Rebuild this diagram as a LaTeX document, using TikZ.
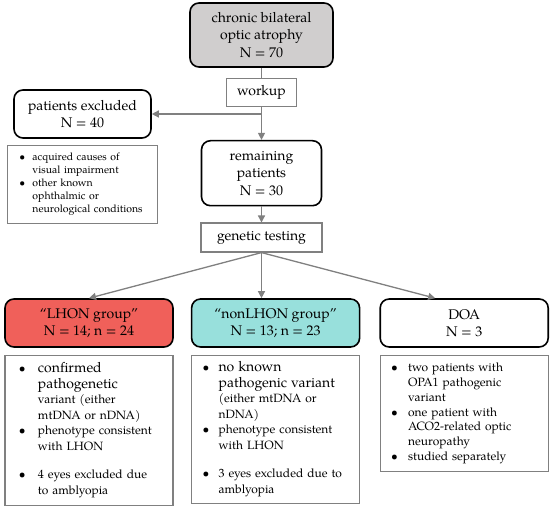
\documentclass[tikz,border=0pt]{standalone}
\usepackage{fontspec}
\setmainfont{TeX Gyre Pagella}
\usetikzlibrary{arrows.meta, positioning}

\definecolor{boxgray}{HTML}{D0CECE}
\definecolor{lhonred}{HTML}{F0605A}
\definecolor{nonteal}{HTML}{98E0DC}
\definecolor{linegray}{HTML}{808080}

% bullet and continuation indent for the note boxes
\newcommand{\itm}[1][16pt]{\makebox[#1][l]{\textbullet}}
\newcommand{\cnt}[1][16pt]{\hspace*{#1}}
\newcommand{\bigtxt}{\fontsize{14}{15.5}\selectfont}

\begin{document}
\begin{tikzpicture}[
  x=1pt, y=1pt,
  >={Triangle[length=7pt, width=7pt]},
  every node/.style={font=\fontsize{14}{17.5}\selectfont},
  group/.style={draw=black, line width=1.6pt, rounded corners=9pt, align=center, inner sep=2pt},
  stage/.style={draw=linegray, line width=1.1pt, align=center, inner sep=2pt},
  note/.style={draw=linegray, line width=1.1pt, align=left, inner ysep=4pt, font=\fontsize{12}{15.5}\selectfont},
  flow/.style={draw=linegray, line width=1.3pt}
]
  \useasboundingbox (0,0) rectangle (550,508);

  % main flow
  \node[group, fill=boxgray, minimum width=143pt, minimum height=64pt] (top) at (261.5,473) {chronic bilateral\\optic atrophy\\N = 70};
  \node[stage, minimum width=70pt, minimum height=28pt, below=10pt of top] (workup) {workup};
  \node[group, minimum width=120pt, minimum height=65pt, below=33pt of workup] (rem) {remaining\\patients\\N = 30};
  \node[stage, minimum width=121pt, minimum height=29pt, below=16pt of rem] (gen) {genetic testing};

  % excluded branch
  \node[group, minimum width=137pt, minimum height=48pt] (excl) at (82.5,394) {patients excluded\\N = 40};
  \node[note, below=6pt of excl, inner xsep=12pt, text width=126pt, minimum height=78pt,
        font=\fontsize{10.5}{13}\selectfont] (exclnote)
    {\itm[13pt]acquired causes of\\ \cnt[13pt]visual impairment\\
     \itm[13pt]other known\\ \cnt[13pt]ophthalmic or\\ \cnt[13pt]neurological conditions};

  % groups
  \node[group, fill=lhonred, minimum width=168pt, minimum height=48pt] (lhon) at (89,185) {“LHON group”\\N = 14; n = 24};
  \node[group, fill=nonteal, minimum width=168pt, minimum height=48pt, right=17pt of lhon] (non) {“nonLHON group”\\N = 13; n = 23};
  \node[group, minimum width=168pt, minimum height=48pt, right=19pt of non] (doa) {DOA\\N = 3};

  \node[note, below=7pt of lhon, inner xsep=14pt, text width=140pt, minimum height=150pt] (lhonnote)
    {\itm[19pt]{\bigtxt confirmed}\\ \cnt[19pt]{\bigtxt pathogenetic}\\
     \cnt[19pt]variant (either\\ \cnt[19pt]mtDNA or nDNA)\\
     \itm[19pt]phenotype consistent\\ \cnt[19pt]with LHON\\[13pt]
     \itm[19pt]4 eyes excluded due\\ \cnt[19pt]to amblyopia};
  \node[note, below=7pt of non, inner xsep=11pt, text width=146pt, minimum height=148pt] (nonnote)
    {\itm{\bigtxt no known}\\ \cnt{\bigtxt pathogenic variant}\\
     \cnt(either mtDNA or\\ \cnt nDNA)\\
     \itm phenotype consistent\\ \cnt with LHON\\[13pt]
     \itm 3 eyes excluded due to\\ \cnt amblyopia};
  \node[note, below=7pt of doa, inner xsep=11pt, text width=146pt, minimum height=116pt,
        font=\fontsize{12}{14.8}\selectfont] (doanote)
    {\itm[17pt]two patients with\\ \cnt[17pt]OPA1 pathogenic\\ \cnt[17pt]variant\\
     \itm[17pt]one patient with\\ \cnt[17pt]ACO2-related optic\\ \cnt[17pt]neuropathy\\
     \itm[17pt]studied separately};

  % connectors
  \coordinate (branch) at (workup.south |- excl.east);
  \draw[flow] (top) -- (workup);
  \draw[flow, ->] (workup) -- (rem);
  \draw[flow, ->] (branch) -- (excl.east);
  \draw[flow, ->] (rem) -- (gen);
  \draw[flow, ->] (gen.south) -- (lhon.north);
  \draw[flow, ->] (gen.south) -- (gen.south |- non.north);
  \draw[flow, ->] (gen.south) -- ([xshift=-29pt]doa.north);
\end{tikzpicture}
\end{document}
